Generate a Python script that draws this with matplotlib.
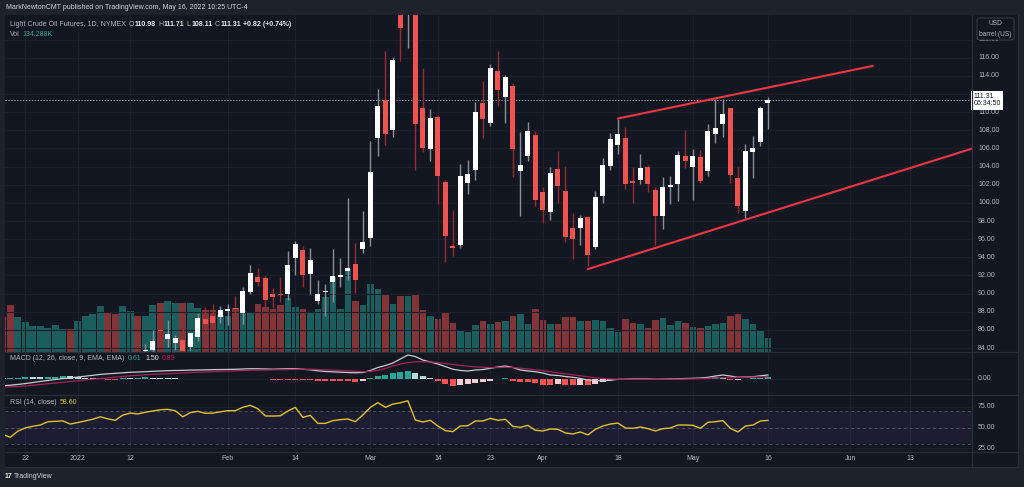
import numpy as np
import pandas as pd
import matplotlib
matplotlib.use('Agg')
from matplotlib import pyplot as plt
from matplotlib.lines import Line2D
from matplotlib.patches import FancyBboxPatch

plt.rcParams['font.family'] = ['Liberation Sans', 'DejaVu Sans']

# ---- values; bar 0 = 2022-05-16, bar -102 = 2021-12-17 ----
first_bar = -102
holidays = ['2021-12-24', '2022-01-17', '2022-02-21', '2022-04-15', '2022-05-30']
tick_dates = ['2021-12-22', '2022-01-03', '2022-01-12', '2022-02-01', '2022-02-14', '2022-03-01',
              '2022-03-14', '2022-03-23', '2022-04-01', '2022-04-18', '2022-05-02', '2022-05-16',
              '2022-06-01', '2022-06-13']
tick_labels = ['22', '2022', '12', 'Feb', '14', 'Mar', '14', '23', 'Apr', '18', 'May', '16', 'Jun', '13']

volume_k = [333, 455, 333, 285, 253, 253, 230, 263, 218, 221,
            295, 343, 369, 445, 384, 362, 445, 391, 343, 343,
            455, 474, 493, 468, 474, 468, 422, 400, 407, 359,
            349, 426, 391, 384, 458, 429, 417, 455, 518, 436,
            410, 372, 410, 525, 724, 410, 801, 487, 455, 650,
            609, 547, 461, 535, 541, 551, 407, 343, 321, 372,
            276, 199, 192, 259, 295, 269, 288, 295, 346, 362,
            266, 417, 304, 273, 266, 340, 340, 295, 301, 307,
            295, 234, 189, 321, 282, 266, 234, 307, 330, 259,
            295, 276, 244, 228, 253, 269, 276, 343, 365, 317,
            269, 199, 134.288]
volume_up = [0, 0, 1, 1, 1, 1, 1, 1, 1, 0,
             1, 1, 1, 1, 0, 0, 1, 1, 0, 1,
             1, 0, 1, 1, 0, 1, 1, 0, 0, 1,
             1, 0, 1, 1, 0, 0, 0, 0, 1, 1,
             0, 1, 1, 1, 1, 1, 1, 0, 1, 1,
             1, 0, 1, 0, 1, 0, 0, 1, 0, 0,
             0, 1, 1, 1, 0, 1, 0, 1, 0, 1,
             1, 0, 0, 1, 0, 0, 0, 1, 0, 1,
             1, 1, 1, 0, 0, 1, 0, 0, 1, 1,
             1, 0, 1, 0, 1, 1, 1, 0, 0, 1,
             1, 1, 1]

# candles visible from bar -83 on (earlier ones sit below the 84 floor)
candle_first = -83
opens = [83.7, 83.8, 86.0, 85.0, 84.6, 84.9, 84.1, 85.2, 87.2, 87.5,
         87.4, 88.1, 88.45, 87.9, 90.2, 91.8, 91.7, 89.9, 90.0, 89.9,
         93.9, 94.8, 92.2, 89.2, 90.15, 91.3, 91.8, 92.5, 93.3, 94.9,
         96.1, 107.1, 111.3, 108.0, 121.5, 121.0, 124.0, 110.5, 105.9, 109.5,
         102.3, 95.2, 95.4, 102.2, 103.6, 111.0, 108.8, 114.5, 111.7, 112.9,
         103.5, 105.2, 107.5, 101.2, 99.0, 103.7, 101.3, 97.2, 97.2, 98.4,
         95.1, 100.8, 104.1, 106.4, 107.1, 102.4, 102.5, 104.0, 101.4, 98.6,
         101.7, 102.1, 105.2, 103.9, 105.1, 103.5, 107.6, 108.7, 110.5, 102.7,
         99.1, 105.6, 106.7, 110.98]
highs = [84.45, 86.0, 86.9, 87.1, 85.4, 86.1, 85.7, 87.9, 88.55, 88.8,
         88.6, 88.85, 89.7, 90.7, 93.2, 92.8, 91.9, 90.65, 91.8, 94.7,
         95.8, 95.2, 95.0, 91.5, 91.1, 94.9, 93.9, 100.5, 95.6, 99.1,
         106.8, 112.5, 116.7, 116.1, 130.0, 129.4, 128.0, 114.9, 110.4, 109.7,
         102.5, 99.2, 104.3, 104.7, 111.1, 113.4, 115.3, 116.7, 114.1, 113.2,
         107.8, 108.9, 107.9, 101.8, 104.0, 105.7, 104.1, 98.9, 98.7, 98.6,
         101.3, 105.0, 107.7, 109.3, 108.4, 104.0, 105.4, 104.2, 101.7, 102.8,
         103.0, 105.7, 108.0, 105.9, 105.8, 108.7, 111.4, 111.4, 110.5, 104.1,
         106.5, 107.4, 110.7, 111.71]
lows = [82.5, 83.3, 84.9, 84.1, 83.8, 83.5, 83.8, 84.8, 85.8, 86.35,
        86.8, 86.5, 87.2, 86.7, 90.0, 90.8, 88.55, 88.4, 89.1, 89.3,
        92.0, 90.7, 90.0, 88.9, 87.5, 89.1, 90.7, 91.5, 90.1, 94.5,
        95.3, 105.2, 106.4, 107.3, 115.6, 117.1, 103.6, 105.6, 104.6, 99.9,
        93.5, 94.1, 95.0, 101.0, 102.5, 107.1, 108.5, 110.7, 108.8, 102.9,
        98.5, 104.6, 99.7, 97.8, 98.1, 100.0, 95.7, 93.8, 95.4, 93.0,
        94.9, 100.0, 103.6, 105.4, 101.5, 100.0, 102.1, 101.2, 95.4, 97.1,
        99.9, 100.2, 103.8, 100.3, 102.2, 103.0, 106.6, 107.3, 102.2, 98.9,
        98.3, 102.7, 106.3, 108.11]
closes = [83.8, 84.8, 85.85, 85.5, 85.1, 83.7, 85.6, 87.3, 86.6, 86.8,
          88.2, 88.25, 88.3, 90.3, 92.3, 91.3, 89.3, 89.6, 89.85, 93.2,
          95.5, 92.0, 93.7, 90.0, 90.25, 91.9, 92.1, 92.8, 91.5, 95.7,
          103.4, 110.7, 107.6, 115.7, 119.3, 123.7, 108.7, 106.0, 109.4, 103.0,
          96.4, 95.0, 103.0, 103.2, 110.0, 109.2, 114.9, 112.4, 113.9, 105.9,
          104.2, 107.9, 100.3, 99.2, 103.3, 101.9, 96.2, 96.0, 98.3, 94.3,
          100.6, 104.2, 107.0, 107.6, 102.1, 102.2, 103.8, 102.1, 98.5, 101.7,
          102.0, 105.3, 104.6, 105.2, 102.4, 107.9, 108.3, 109.8, 103.1, 99.7,
          105.7, 106.1, 110.5, 111.31]
last_price = 111.31

macd_line = [-2.5, -2.3, -2.0, -1.7, -1.3, -0.9, -0.55, -0.2, 0.15, 0.37,
             0.74, 1.04, 1.37, 1.7, 1.92, 2.1, 2.3, 2.48, 2.6, 2.7,
             2.85, 2.96, 3.07, 3.15, 3.2, 3.3, 3.33, 3.4, 3.48, 3.5,
             3.55, 3.6, 3.7, 3.8, 3.77, 3.7, 3.63, 3.7, 3.77, 3.8,
             3.6, 3.4, 3.03, 2.78, 2.66, 2.5, 2.4, 2.3, 2.4, 3.15,
             4.25, 5.0, 5.9, 7.4, 8.9, 8.3, 7.0, 6.3, 5.55, 4.6,
             3.6, 3.15, 2.96, 3.33, 3.5, 3.96, 4.44, 4.8, 4.25, 3.33,
             2.96, 2.7, 2.2, 1.48, 1.3, 0.92, 0.63, 0.18, -0.37, -0.55,
             -0.63, -0.48, -0.11, -0.07, 0.0, 0.0, 0.0, -0.1, -0.07, 0.0,
             0.1, 0.18, 0.26, 0.37, 0.63, 1.1, 1.48, 1.1, 0.63, 0.74,
             0.85, 1.18, 1.5]
signal_line = [-2.96, -2.9, -2.78, -2.6, -2.3, -2.0, -1.74, -1.48, -1.2, -0.92,
               -0.67, -0.37, -0.07, 0.18, 0.44, 0.67, 0.92, 1.18, 1.37, 1.55,
               1.74, 1.85, 1.96, 2.1, 2.26, 2.4, 2.48, 2.6, 2.74, 2.85,
               2.96, 3.03, 3.15, 3.22, 3.3, 3.33, 3.4, 3.44, 3.5, 3.55,
               3.6, 3.6, 3.5, 3.4, 3.3, 3.15, 3.0, 2.85, 2.7, 2.8,
               3.2, 3.9, 4.8, 5.55, 6.1, 6.36, 6.4, 6.3, 6.07, 5.74,
               5.37, 5.0, 4.74, 4.5, 4.37, 4.2, 4.25, 4.33, 4.25, 4.0,
               3.7, 3.4, 3.1, 2.66, 2.3, 1.92, 1.55, 1.18, 0.8, 0.44,
               0.18, 0.0, -0.11, -0.11, -0.11, -0.11, -0.11, -0.11, -0.11, -0.07,
               -0.04, 0.0, 0.07, 0.18, 0.26, 0.37, 0.48, 0.55, 0.63, 0.67,
               0.74, 0.81, 0.89]
macd_hist = [0.2, 0.3, 0.5, 0.6, 0.6, 0.6, 0.7, 0.9, 1.0, 1.0,
             0.7, 0.5, 0.4, 0.3, -0.3, -0.5, 0.4, 0.4, 0.5, 0.6,
             0.5, 0.4, 0.3, 0.2, 0.1, 0.05, 0.05, 0.05, 0.05, 0.05,
             0.05, 0.05, 0.05, 0.05, 0.05, -0.1, -0.3, -0.3, -0.3, -0.3,
             -0.3, -0.3, -0.6, -0.6, -0.6, -0.6, -0.6, -1.0, -0.6, 0.5,
             1.1, 1.5, 2.1, 2.6, 3.0, 2.1, 1.1, 0.5, -0.6, -1.7,
             -2.5, -2.2, -2.0, -1.4, -1.0, -0.6, 0.1, 0.2, -0.6, -1.0,
             -1.2, -1.6, -2.1, -2.1, -2.0, -2.1, -2.2, -2.1, -2.4, -1.7,
             -1.2, -0.4, 0.0, -0.05, 0.05, 0.05, -0.3, -0.2, -0.2, 0.05,
             0.1, 0.15, 0.2, 0.2, 0.5, 0.6, 0.5, -0.3, -0.2, 0.1,
             0.2, 0.5, 0.61]
rsi = [41.7, 38.1, 45.5, 49.5, 51.5, 53, 57, 57.5, 58, 54.2,
       56, 58, 60, 63, 60.5, 58.7, 65, 67.5, 66.4, 68.5,
       70, 71.5, 72, 70.4, 63, 68, 69.6, 67.2, 67.5, 69,
       70.4, 70.4, 74.5, 76.9, 72.8, 64, 63.9, 64.2, 70, 74.4,
       62.3, 64.7, 55, 55, 58.3, 59.5, 60.3, 57.1, 65.2, 74.4,
       80.1, 74.4, 78.4, 80.0, 82.4, 59.1, 56.7, 58.7, 51.8, 46.2,
       45.0, 51.8, 52.2, 57.9, 57.9, 61.1, 58.7, 59.9, 51.4, 50.2,
       52.6, 46.6, 45.8, 48.2, 47.8, 43.4, 42.2, 44.6, 41.0, 47.8,
       51.8, 54.2, 55.4, 49.4, 49.0, 50.6, 48.6, 45.8, 48.6, 49.4,
       53.0, 53.0, 52.6, 49.0, 56.3, 57.1, 58.3, 49.0, 44.6, 51.8,
       53.0, 57.9, 58.6]

# drawn trend lines (bar, price)
upper_line = [(-20, 109.3), (14, 115.1)]
lower_line = [(-24, 92.7), (40, 109.3)]

price_ticks = list(range(84, 120, 2))
rsi_ticks = [75, 50, 25]

# ---- colours ----
BG = '#131722'
OUTER = '#1e222d'
SEP = '#2a2e39'
GRID = '#1c202c'
TXT = '#b2b5be'
WHITE_TXT = '#e6e7ea'
UP_BODY, UP_WICK = '#ffffff', '#8c8f99'
DN_BODY, DN_WICK = '#ef5350', '#9a2b31'
VOL_UP, VOL_DN = '#1c5e5e', '#813539'
RED_LINE = '#f23645'
FS = 5.0

W, H = 1024, 487


def px_rect(x0, y0, x1, y1):
    return [x0 / W, 1 - y1 / H, (x1 - x0) / W, (y1 - y0) / H]


def ftext(x, y, s, **kw):
    kw.setdefault('color', TXT)
    kw.setdefault('fontsize', FS)
    return fig.text(x / W, 1 - y / H, s, va='center', **kw)


def chain(x, y, parts):
    # write text pieces one after the other, each starting where the last ended
    r = fig.canvas.get_renderer()
    for s, color, weight, gap in parts:
        t = ftext(x, y, s, color=color, fontweight=weight)
        x = t.get_window_extent(r).x1 + gap


def fline(x0, y0, x1, y1, color=SEP, lw=0.9):
    fig.add_artist(Line2D([x0 / W, x1 / W], [1 - y0 / H, 1 - y1 / H],
                          transform=fig.transFigure, color=color, lw=lw, zorder=6))


days = pd.bdate_range('2021-12-17', '2022-06-30')
days = days[~days.isin(pd.to_datetime(holidays))]
bar_of = {d: k + first_bar for k, d in enumerate(days)}
tick_pos = [bar_of[pd.Timestamp(d)] for d in tick_dates]

x_all = np.arange(first_bar, first_bar + len(volume_k))
x_c = np.arange(candle_first, candle_first + len(opens))
xlim = (-101.7, 27.2)

fig = plt.figure(figsize=(W / 100, H / 100), dpi=100, facecolor=OUTER)
bg = fig.add_axes(px_rect(5, 15, 1018, 467), facecolor=BG, zorder=-1)
bg.set_axis_off()
bg.add_patch(plt.Rectangle((0, 0), 1, 1, transform=bg.transAxes, color=BG))

ax_v = fig.add_axes(px_rect(5, 15, 972, 352), zorder=1)
ax_p = fig.add_axes(px_rect(5, 15, 972, 352), zorder=2)
ax_m = fig.add_axes(px_rect(5, 352, 972, 395), zorder=2)
ax_r = fig.add_axes(px_rect(5, 395, 972, 452), zorder=2)
for ax in (ax_v, ax_p, ax_m, ax_r):
    ax.set_facecolor('none')
    for s in ax.spines.values():
        s.set_visible(False)
    ax.set_xticks([])
    ax.set_yticks([])
    ax.set_xlim(*xlim)
ax_v.set_facecolor(BG)

ax_p.set_ylim(83.56, 120.71)
ax_v.set_ylim(0, 337 * 9.6)
ax_m.set_ylim(-5.92, 9.99)
ax_r.set_ylim(20.3, 89.4)

# grid
for p in price_ticks:
    ax_v.axhline(p, color=GRID, lw=0.8) if False else ax_p.axhline(p, color=GRID, lw=0.8, zorder=0)
for ax in (ax_p, ax_m, ax_r):
    for t in tick_pos:
        ax.axvline(t, color=GRID, lw=0.8, zorder=0)
for v in rsi_ticks:
    ax_r.axhline(v, color=GRID, lw=0.8, zorder=0)
ax_m.axhline(0, color=GRID, lw=0.8, zorder=0)

# volume
ax_v.bar(x_all, volume_k, width=0.88,
         color=[VOL_UP if u else VOL_DN for u in volume_up], linewidth=0)

# candles
o, h, l, c = map(np.array, (opens, highs, lows, closes))
up = c >= o
ax_p.vlines(x_c, l, h, colors=[UP_WICK if u else DN_WICK for u in up], lw=1, zorder=3)
ax_p.bar(x_c, np.maximum(np.abs(c - o), 0.13), bottom=np.minimum(o, c), width=0.68,
         color=[UP_BODY if u else DN_BODY for u in up], linewidth=0, zorder=4)

# trend lines and last price
for ln in (upper_line, lower_line):
    ax_p.plot([ln[0][0], ln[1][0]], [ln[0][1], ln[1][1]], color=RED_LINE, lw=1.5,
              zorder=5, solid_capstyle='round')
ax_p.axhline(last_price, color='#9598a1', lw=0.7, ls=(0, (1.5, 1.5)), zorder=2)

# MACD
hist = np.array(macd_hist)
hcol = []
for k, v in enumerate(hist):
    prev = hist[k - 1] if k else v
    if v >= 0:
        hcol.append('#26a69a' if v > prev else '#b2dfdb')
    else:
        hcol.append('#ffcdd2' if v > prev else '#ff5252')
ax_m.bar(x_all, hist, width=0.8, color=hcol, linewidth=0, zorder=2)
ax_m.plot(x_all, macd_line, color='#c9cbd1', lw=0.9, zorder=3)
ax_m.plot(x_all, signal_line, color='#a3245a', lw=0.9, zorder=3)

# RSI
ax_r.axhspan(30, 70, color='#7e57c2', alpha=0.1, lw=0, zorder=0)
for v in (70, 50, 30):
    ax_r.axhline(v, color='#787b86', alpha=0.55, lw=0.7, ls=(0, (3, 3)), zorder=1)
ax_r.plot(x_all, rsi, color='#e2c12f', lw=1.0, zorder=3)

# right price scale
ty = ax_p.get_yaxis_transform()
for p in price_ticks + [118]:
    ax_p.text(1 + 6 / 967, p, f'{p:.2f}', transform=ty, color=TXT, fontsize=FS,
              va='center', clip_on=False)
ax_p.text(1 + 1.5 / 967, last_price, f'{last_price:.2f}\n06:34:50', transform=ty,
          color='#131722', fontsize=FS, va='center', ha='left', clip_on=False, zorder=10,
          linespacing=1.05,
          bbox=dict(boxstyle='square,pad=0.35', fc='white', ec='none'))
ax_m.text(1 + 6 / 967, 0, '0.00', transform=ax_m.get_yaxis_transform(), color=TXT,
          fontsize=FS, va='center', clip_on=False)
for v in rsi_ticks:
    ax_r.text(1 + 6 / 967, v, f'{v:.2f}', transform=ax_r.get_yaxis_transform(), color=TXT,
              fontsize=FS, va='center', clip_on=False)

# time axis
tx = ax_r.get_xaxis_transform()
for t, lab in zip(tick_pos, tick_labels):
    ax_r.text(t, -7 / 57, lab, transform=tx, color=TXT, fontsize=FS, ha='center',
              va='center', clip_on=False)

# separators
for y in (352, 395, 452):
    fline(5, y, 1018, y)
fline(972, 15, 972, 467)
fline(1018, 15, 1018, 467)
fline(5, 467, 1018, 467)

# unit box
fig.add_artist(FancyBboxPatch((977 / W, 1 - 40 / H), 37 / W, 22 / H,
                              boxstyle='round,pad=0,rounding_size=0.004',
                              transform=fig.transFigure, fc=BG, ec='#363a45', lw=0.8, zorder=7))
fline(977, 29, 1014, 29, color='#363a45', lw=0.6)
ftext(995.5, 23.5, 'USD', ha='center', fontsize=4.8, zorder=8)
ftext(995.5, 34.5, 'barrel (US)', ha='center', fontsize=4.8, zorder=8)

# header and legends
ftext(6, 7.5, 'MarkNewtonCMT published on TradingView.com, May 16, 2022 10:25 UTC-4',
      color='#d1d4dc')
chain(10, 24, [('Light Crude Oil Futures, 1D, NYMEX', TXT, 'normal', 3),
               ('O', TXT, 'normal', 0.3), ('110.98', WHITE_TXT, 'bold', 2.5),
               ('H', TXT, 'normal', 0.3), ('111.71', WHITE_TXT, 'bold', 2.5),
               ('L', TXT, 'normal', 0.3), ('108.11', WHITE_TXT, 'bold', 2.5),
               ('C', TXT, 'normal', 0.3), ('111.31', WHITE_TXT, 'bold', 2.5),
               ('+0.82 (+0.74%)', WHITE_TXT, 'bold', 0)])
chain(10, 34, [('Vol', TXT, 'normal', 3), ('134.288K', '#26a69a', 'normal', 0)])
chain(10, 359, [('MACD (12, 26, close, 9, EMA, EMA)', TXT, 'normal', 3.5),
                ('0.61', '#26a69a', 'normal', 3.5), ('1.50', WHITE_TXT, 'normal', 3.5),
                ('0.89', '#c2185b', 'normal', 0)])
chain(10, 403, [('RSI (14, close)', TXT, 'normal', 3.5), ('58.60', '#e2c12f', 'normal', 0)])

chain(5, 477, [('17', WHITE_TXT, 'bold', 1.5), ('TradingView', '#d1d4dc', 'normal', 0)])

fig.savefig('out.png', dpi=100, facecolor=OUTER)
